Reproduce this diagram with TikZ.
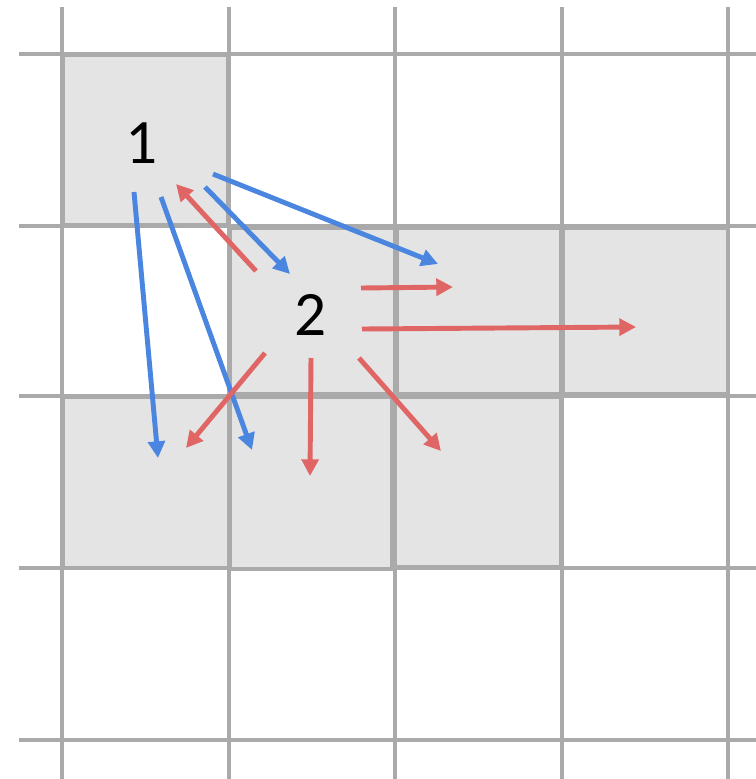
\documentclass[tikz,border=0pt]{standalone}
\usepackage{fontspec}
\setmainfont{Carlito}
\usetikzlibrary{arrows.meta}
\definecolor{gridc}{HTML}{AAAAAA}
\definecolor{cellc}{HTML}{E4E4E4}
\definecolor{bluec}{HTML}{4A86E0}
\definecolor{redc}{HTML}{E06666}
\begin{document}
\begin{tikzpicture}[x=0.02cm,y=-0.02cm,
  gridline/.style={draw=gridc,line width=2.2pt},
  cell/.style={fill=cellc,draw=gridc,line width=2pt},
  barrow/.style={draw=bluec,line width=2.8pt,-{Triangle[length=9.5pt,width=9.5pt]}},
  rarrow/.style={draw=redc,line width=2.8pt,-{Triangle[length=9.5pt,width=9.5pt]}},
  lbl/.style={font=\fontsize{36}{40}\selectfont,inner sep=0pt}]
\useasboundingbox (0,0) rectangle (756,779);
% grid
\foreach \x in {62,229,395,562,728} \draw[gridline] (\x,7) -- (\x,779);
\foreach \y in {54,226,396,568,740} \draw[gridline] (19,\y) -- (756,\y);
% gray cells with their own outlines
\path[cell] (63,55) rectangle (228,225);
\path[cell] (230,228) rectangle (395,394);
\path[cell] (397,228) rectangle (561,394);
\path[cell] (563,228) rectangle (728,394);
\path[cell] (63,397) rectangle (229,568);
\path[cell] (230,397) rectangle (392,569);
\path[cell] (395,397) rectangle (561,567);
% labels
\node[lbl] (n1) at (142,143) {1};
\node[lbl] (n2) at (311,315) {2};
% endpoints
\coordinate (b1s) at (134,192); \coordinate (b1e) at (158,458);
\coordinate (b2s) at (161,197); \coordinate (b2e) at (252,450);
\coordinate (b3s) at (205,187); \coordinate (b3e) at (290,274);
\coordinate (b4s) at (213,174); \coordinate (b4e) at (438,264);
\coordinate (r0s) at (256,271); \coordinate (r0e) at (176,184);
\coordinate (r1s) at (361,288); \coordinate (r1e) at (453,287);
\coordinate (r2s) at (362,329); \coordinate (r2e) at (636,327);
\coordinate (r3s) at (265,353); \coordinate (r3e) at (186,448);
\coordinate (r4s) at (311,358); \coordinate (r4e) at (310,476);
\coordinate (r5s) at (359,358); \coordinate (r5e) at (441,451);
% arrows
\draw[barrow] (b1s) -- (b1e);
\draw[barrow] (b2s) -- (b2e);
\draw[barrow] (b3s) -- (b3e);
\draw[barrow] (b4s) -- (b4e);
\draw[rarrow] (r0s) -- (r0e);
\draw[rarrow] (r1s) -- (r1e);
\draw[rarrow] (r2s) -- (r2e);
\draw[rarrow] (r3s) -- (r3e);
\draw[rarrow] (r4s) -- (r4e);
\draw[rarrow] (r5s) -- (r5e);
\end{tikzpicture}
\end{document}
